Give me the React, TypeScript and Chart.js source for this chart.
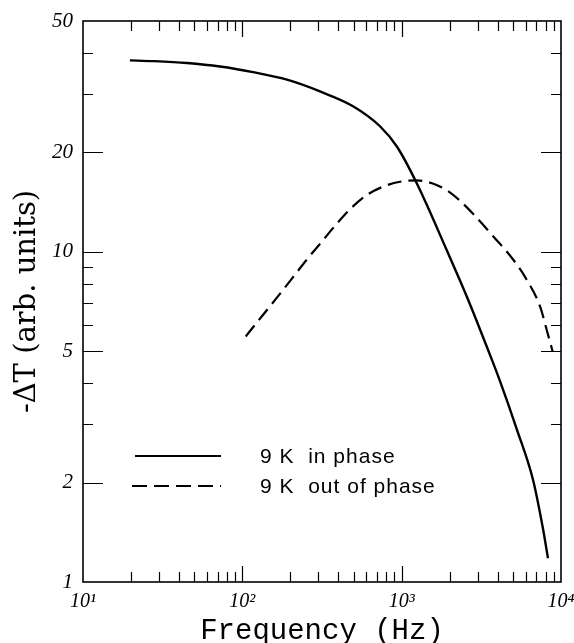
import React, { useEffect, useRef } from 'react';
import { Chart, registerables } from 'chart.js';

Chart.register(...registerables);

// In-phase signal (solid)
const inPhaseFreq = [19.7, 27.5, 44.9, 72.4, 116.7, 190.7, 307, 495, 731, 935, 1248, 1926, 2570, 3483, 4142, 5295, 6673, 7713, 8287];
const inPhaseVal = [38.0, 37.8, 37.3, 36.4, 35.0, 33.2, 30.6, 27.6, 24.0, 20.8, 16.07, 10.07, 7.30, 5.05, 4.06, 2.89, 2.04, 1.447, 1.18];

// Out-of-phase signal (dashed)
const outPhaseFreq = [105, 132.3, 164.3, 204.1, 253.5, 322.3, 398.5, 495, 614.8, 774.7, 976, 1243, 1550, 1918, 2324, 2804, 3761, 5020, 6093, 7386, 8136, 8872];
const outPhaseVal = [5.54, 6.37, 7.25, 8.28, 9.46, 10.87, 12.29, 13.73, 14.94, 15.79, 16.30, 16.45, 16.13, 15.36, 14.27, 13.04, 11.13, 9.46, 8.23, 6.83, 5.80, 4.98];

const seriesLabels = ['9 K  in phase', '9 K  out of phase'];

const xMin = 10;
const xMax = 10000;
const yMin = 1;
const yMax = 50;
const yLabelValues = [1, 2, 5, 10, 20, 50];
const xDecadeExps = [1, 2, 3, 4];
const supDigits: Record<number, string> = { 1: '¹', 2: '²', 3: '³', 4: '⁴' };

function xTickValues(): number[] {
  const out: number[] = [];
  for (let e = 1; e < 4; e++) {
    for (let m = 1; m < 10; m++) out.push(m * Math.pow(10, e));
  }
  out.push(10000);
  return out;
}
function yTickValues(): number[] {
  const out: number[] = [];
  for (let m = 1; m < 10; m++) out.push(m);
  for (let m = 1; m <= 5; m++) out.push(m * 10);
  return out;
}
function isDecade(v: number) {
  const l = Math.log10(v);
  return Math.abs(l - Math.round(l)) < 1e-9;
}

const framePlugin = {
  id: 'frameTicks',
  afterDraw(chart: any) {
    const { ctx, chartArea } = chart;
    const { left, right, top, bottom } = chartArea;
    const xs = chart.scales.x;
    const ys = chart.scales.y;
    ctx.save();
    ctx.strokeStyle = '#000';
    ctx.lineWidth = 1.6;
    ctx.strokeRect(left, top, right - left, bottom - top);
    ctx.lineWidth = 1.2;
    ctx.beginPath();
    xTickValues().forEach((v) => {
      if (v <= xMin || v >= xMax) return;
      const px = Math.round(xs.getPixelForValue(v)) + 0.5;
      const len = isDecade(v) ? 16 : 10;
      ctx.moveTo(px, bottom);
      ctx.lineTo(px, bottom - len);
      ctx.moveTo(px, top);
      ctx.lineTo(px, top + len);
    });
    yTickValues().forEach((v) => {
      if (v <= yMin || v >= yMax) return;
      const py = Math.round(ys.getPixelForValue(v)) + 0.5;
      const len = yLabelValues.includes(v) ? 20 : 10;
      ctx.moveTo(left, py);
      ctx.lineTo(left + len, py);
      ctx.moveTo(right, py);
      ctx.lineTo(right - len, py);
    });
    ctx.stroke();
    ctx.restore();
  },
};

const legendPlugin = {
  id: 'insideLegend',
  afterDraw(chart: any) {
    const { ctx, chartArea } = chart;
    const { left } = chartArea;
    const rows = [
      { y: chartArea.top + 435, x0: left + 52, dash: [] as number[] },
      { y: chartArea.top + 465, x0: left + 49, dash: [15, 7] },
    ];
    ctx.save();
    rows.forEach((r, i) => {
      const ds = chart.data.datasets[i];
      ctx.strokeStyle = '#000';
      ctx.lineWidth = 1.8;
      ctx.setLineDash(r.dash);
      ctx.beginPath();
      ctx.moveTo(r.x0, r.y);
      ctx.lineTo(left + 138, r.y);
      ctx.stroke();
      ctx.setLineDash([]);
      ctx.fillStyle = '#000';
      ctx.font = '21px "Liberation Sans", Arial, sans-serif';
      try { (ctx as any).letterSpacing = '1px'; } catch (e) {}
      ctx.textAlign = 'left';
      ctx.textBaseline = 'middle';
      ctx.fillText(ds.label, left + 177, r.y + 1);
    });
    ctx.restore();
  },
};

export default function App() {
  const ref = useRef<HTMLCanvasElement>(null);
  useEffect(() => {
    const inPts = inPhaseFreq.map((f, i) => ({ x: f, y: inPhaseVal[i] }));
    const outPts = outPhaseFreq.map((f, i) => ({ x: f, y: outPhaseVal[i] }));
    const chart = new Chart(ref.current as HTMLCanvasElement, {
      type: 'line',
      data: {
        datasets: [
          {
            label: seriesLabels[0],
            data: inPts,
            borderColor: '#000',
            borderWidth: 2.4,
            pointRadius: 0,
            cubicInterpolationMode: 'monotone',
            fill: false,
          },
          {
            label: seriesLabels[1],
            data: outPts,
            borderColor: '#000',
            borderWidth: 2.2,
            borderDash: [14, 7],
            pointRadius: 0,
            cubicInterpolationMode: 'monotone',
            fill: false,
          },
        ],
      },
      options: {
        responsive: false,
        animation: false,
        devicePixelRatio: 1,
        layout: { padding: { left: 0, right: 13, top: 21, bottom: 0 } },
        plugins: { legend: { display: false }, tooltip: { enabled: false } },
        scales: {
          x: {
            type: 'logarithmic',
            min: xMin,
            max: xMax,
            grid: { display: false, drawTicks: false },
            border: { display: false },
            afterBuildTicks: (scale: any) => {
              scale.ticks = xTickValues().map((v) => ({ value: v }));
            },
            afterFit: (scale: any) => {
              scale.height = 61;
              scale.paddingLeft = 0;
              scale.paddingRight = 0;
            },
            ticks: {
              autoSkip: false,
              maxRotation: 0,
              minRotation: 0,
              padding: 8,
              color: '#000',
              font: { family: '"Liberation Serif", serif', size: 20, style: 'italic' },
              callback: (v: any) => {
                const n = Number(v);
                if (!isDecade(n)) return '';
                const e = Math.round(Math.log10(n));
                return xDecadeExps.includes(e) ? '10' + supDigits[e] : '';
              },
            },
            title: {
              display: true,
              text: 'Frequency (Hz)',
              color: '#000',
              font: { family: '"Liberation Mono", "Courier New", monospace', size: 29, lineHeight: 0.8 },
              padding: { top: 0, bottom: 0 },
            },
          },
          y: {
            type: 'logarithmic',
            min: yMin,
            max: yMax,
            grid: { display: false, drawTicks: false },
            border: { display: false },
            afterBuildTicks: (scale: any) => {
              scale.ticks = yTickValues().map((v) => ({ value: v }));
            },
            afterFit: (scale: any) => {
              scale.width = 83;
              scale.paddingTop = 0;
              scale.paddingBottom = 0;
            },
            ticks: {
              autoSkip: false,
              padding: 10,
              color: '#000',
              font: { family: '"Liberation Serif", serif', size: 21, style: 'italic' },
              callback: (v: any) => {
                const n = Number(v);
                return yLabelValues.includes(n) ? String(n) : '';
              },
            },
            title: {
              display: true,
              text: '-ΔT (arb. units)',
              color: '#000',
              font: { family: '"DejaVu Serif", serif', size: 29, lineHeight: 1 },
              padding: { top: 13, bottom: 0 },
            },
          },
        },
      },
      plugins: [framePlugin, legendPlugin],
    } as any);
    return () => chart.destroy();
  }, []);
  return (
    <div style={{ position: 'fixed', left: 0, top: 0, width: 574, height: 643, background: '#fff' }}>
      <canvas ref={ref} width={574} height={643} style={{ display: 'block', width: 574, height: 643 }} />
    </div>
  );
}
